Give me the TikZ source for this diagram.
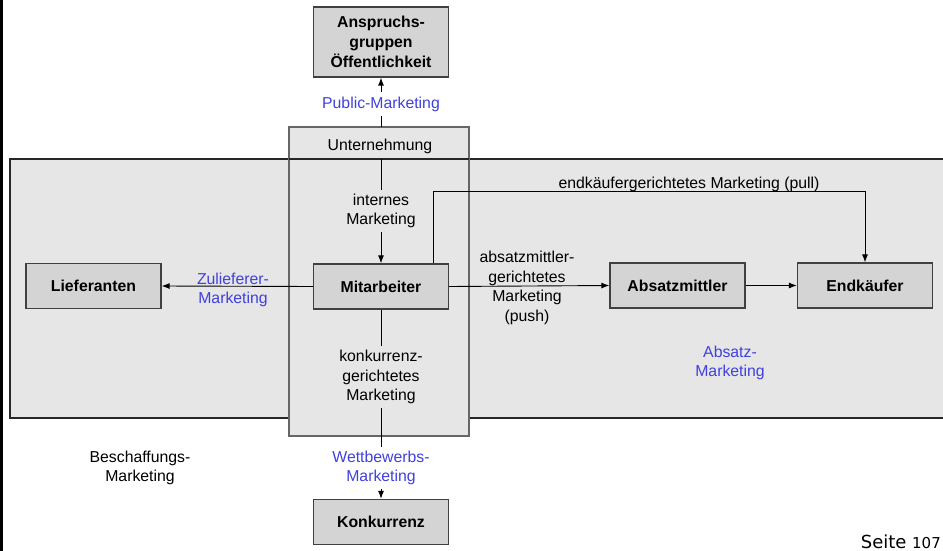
\documentclass[tikz,border=0pt]{standalone}
\usepackage{fontspec}
\setmainfont{Liberation Sans}
\newfontfamily\pagefont{DejaVu Sans}
\usetikzlibrary{arrows.meta}
\definecolor{bandgray}{HTML}{E6E6E6}
\definecolor{boxgray}{HTML}{D4D4D4}
\definecolor{edgegray}{HTML}{404040}
\definecolor{mblue}{HTML}{4040DD}
\begin{document}
\begin{tikzpicture}[x=1pt,y=-1pt,
  every node/.style={font=\fontsize{15.8}{19.7}\selectfont, align=center, inner sep=4pt},
  entity/.style={draw=edgegray, line width=1.3pt, fill=boxgray, minimum width=135pt,
                 minimum height=45pt, font=\fontsize{15.8}{19.7}\selectfont\bfseries},
  lbl/.style={text=black},
  blbl/.style={text=mblue},
  conn/.style={line width=0.9pt, black},
  arr/.style={conn, -{Latex[length=8pt,width=6pt]}}]
  \useasboundingbox (0,0) rectangle (943,551);
  \begin{scope}
  \clip (0,0) rectangle (943,551);
  % left margin rule
  \fill[black] (0,0) rectangle (2.5,551);
  % market band
  \draw[fill=bandgray, line width=1.3pt, draw=black!85] (10,159) rectangle (960,418);
  % company frame
  \draw[fill=bandgray, line width=1.3pt, draw=edgegray!80] (289,127) rectangle (469,436);
  \draw[line width=1.3pt, black!85] (289,159) -- (469,159);
  \end{scope}

  \node[lbl] (unt) at (380,146) {Unternehmung};
  \coordinate (untTop) at (381,127);
  \coordinate (untBase) at (381,159);

  % entities
  \node[entity, minimum height=70pt] (anspr) at (381,42) {Anspruchs-\\gruppen\\Öffentlichkeit};
  \node[entity] (mit) at (381,286.5) {Mitarbeiter};
  \node[entity] (lief) at (93.5,286) {Lieferanten};
  \node[entity] (absm) at (677.5,285.5) {Absatzmittler};
  \node[entity] (endk) at (865,285.5) {Endkäufer};
  \node[entity] (konk) at (381,522) {Konkurrenz};

  % public marketing
  \node[blbl] (pub) at (381,104) {Public-Marketing};
  \draw[conn] (untTop) -- (pub);
  \draw[arr] (pub) -- (anspr);

  % internal marketing
  \node[lbl] (intm) at (381,211) {internes\\Marketing};
  \draw[conn] (untBase) -- (intm);
  \draw[arr] (intm) -- (mit);

  % supplier marketing
  \draw[arr] (mit.west) -- (lief.east);
  \node[blbl] (zul) at (233,290) {Zulieferer-\\Marketing};

  % push marketing
  \draw[arr] (mit.east) -- (absm.west);
  \node[lbl] (push) at (527,288) {absatzmittler-\\gerichtetes\\Marketing\\(push)};
  \draw[arr] (absm.east) -- (endk.west);

  % pull marketing
  \coordinate (pullA) at (433,191);
  \coordinate (pullB) at (865,191);
  \draw[arr] (mit.north -| pullA) -- (pullA) -- (pullB) -- (endk.north -| pullB);
  \node[lbl, anchor=base] (pull) at (689,188) {endkäufergerichtetes Marketing (pull)};

  \node[blbl] (absmk) at (730,363) {Absatz-\\Marketing};

  % competition marketing
  \node[lbl] (konkm) at (381,377) {konkurrenz-\\gerichtetes\\Marketing};
  \node[blbl] (wett) at (381,468) {Wettbewerbs-\\Marketing};
  \draw[conn] (mit.south) -- (konkm);
  \draw[conn] (konkm) -- (wett);
  \draw[arr] (wett) -- (konk);

  \node[lbl] (besch) at (140,468) {Beschaffungs-\\Marketing};

  % page number
  \node[anchor=base east, inner sep=0pt, font=\pagefont\fontsize{18}{21}\selectfont] (page) at (941,548) {Seite {\fontsize{15}{18}\selectfont 107}};
\end{tikzpicture}
\end{document}
